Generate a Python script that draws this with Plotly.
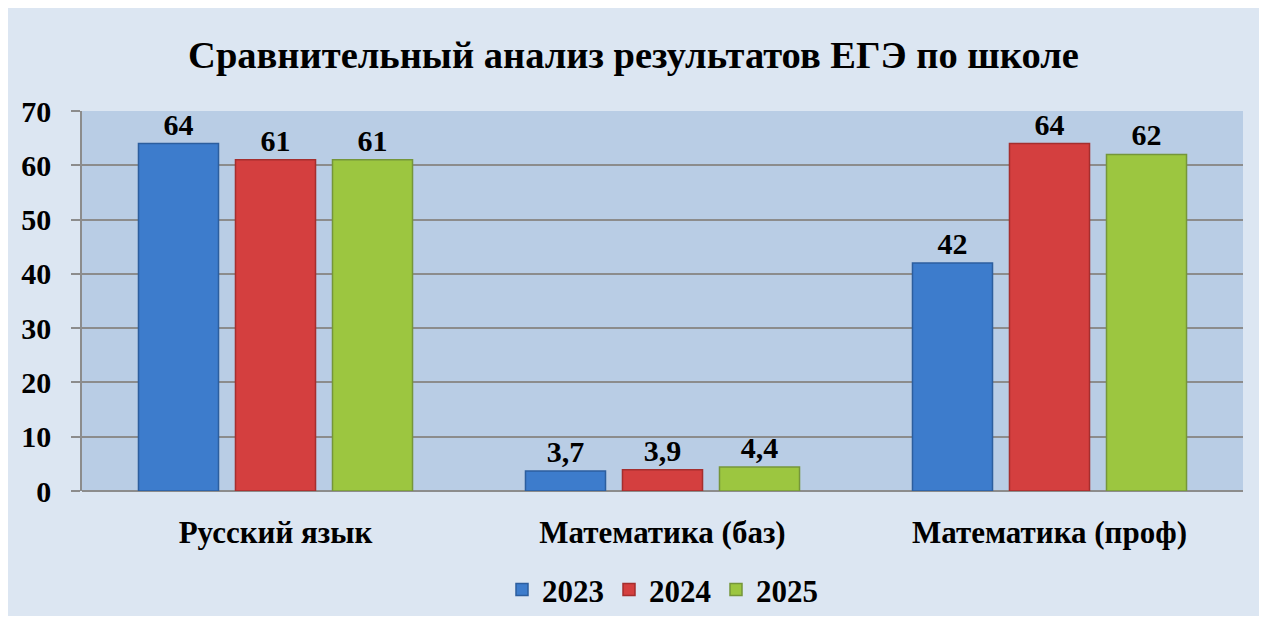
import plotly.graph_objects as go

categories = ["Русский язык", "Математика (баз)", "Математика (проф)"]
years = ["2023", "2024", "2025"]
values_2023 = [64, 3.7, 42]
values_2024 = [61, 3.9, 64]
values_2025 = [61, 4.4, 62]
y_ticks = [0, 10, 20, 30, 40, 50, 60, 70]

series = [values_2023, values_2024, values_2025]
colors = ["#3d7ccc", "#d43f3f", "#9cc640"]
borders = ["#2c5e9e", "#a52e2e", "#75963a"]

FONT = "Liberation Serif"

fig = go.Figure()
for name, vals, c, b in zip(years, series, colors, borders):
    fig.add_trace(go.Bar(
        x=categories, y=vals, name="<b>" + name + "</b>",
        marker=dict(color=c, line=dict(color=b, width=1.5)),
        texttemplate="<b>%{y}</b>", textposition="outside",
        textfont=dict(family=FONT, size=30, color="black"),
        cliponaxis=False,
    ))

fig.update_layout(
    autosize=True,
    margin=dict(l=74, r=16, t=103, b=125, autoexpand=False),
    paper_bgcolor="#dce6f2",
    plot_bgcolor="#b9cde5",
    separators=", ",
    bargap=0.248,
    bargroupgap=0.175,
    title=dict(text="<b>Сравнительный анализ результатов ЕГЭ по школе</b>",
               x=0.5, xanchor="center", y=0.924, yanchor="middle",
               font=dict(family=FONT, size=38.5, color="black")),
    legend=dict(orientation="h", x=0.5, xanchor="center", yref="container", y=0.043, yanchor="middle",
                font=dict(family=FONT, size=31, color="black"),
                bgcolor="rgba(0,0,0,0)", itemwidth=30, traceorder="normal"),
    font=dict(family=FONT, color="black"),
)
fig.update_yaxes(range=[0, 70], tickvals=y_ticks, ticktext=["<b>%d</b>" % v for v in y_ticks],
                 showgrid=True, gridcolor="#8c8c8c", gridwidth=1.5,
                 showline=True, linecolor="#8c8c8c", linewidth=1.5,
                 ticks="outside", ticklen=9, tickcolor="#8c8c8c", tickwidth=1.5,
                 zeroline=True, zerolinecolor="#8c8c8c", zerolinewidth=1.5,
                 tickfont=dict(family=FONT, size=30, color="black"),
                 ticklabelstandoff=14, automargin=False)
fig.update_xaxes(showline=False, ticks="", tickfont=dict(family=FONT, size=31, color="black"),
                 tickprefix="<b>", ticksuffix="</b>", ticklabelstandoff=20, automargin=False)

fig.write_html("out.html")
